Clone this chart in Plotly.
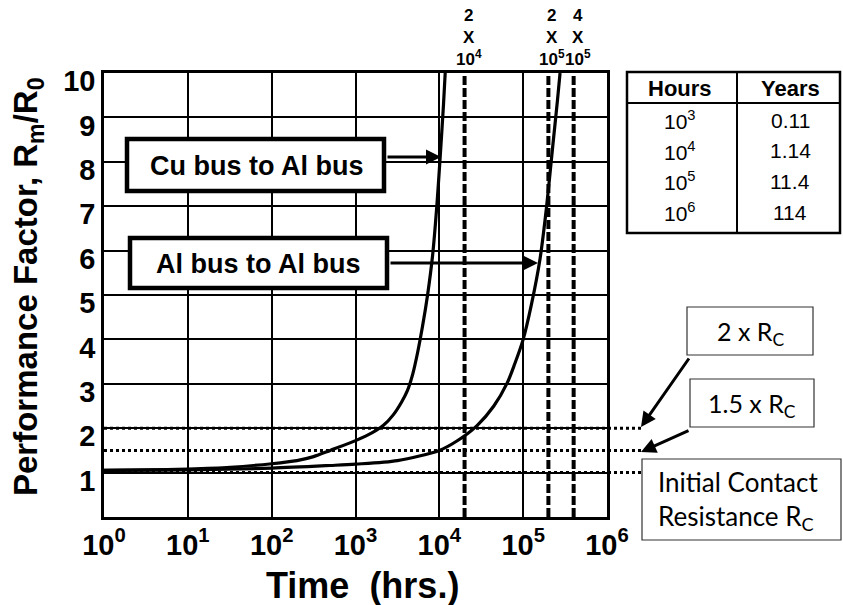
import math
import plotly.graph_objects as go

# ---------------- data ----------------
cu_hours = [1, 3.2, 10, 32, 100, 200, 316, 500, 1000, 1585, 2140, 2820, 3550, 4170, 4790, 5500, 6310, 7240, 8320, 9330, 10230, 11220, 11750]
cu_pf = [1.05, 1.06, 1.08, 1.12, 1.2, 1.27, 1.36, 1.5, 1.72, 1.9, 2.06, 2.3, 2.59, 2.85, 3.2, 3.7, 4.3, 5.0, 5.9, 7.0, 8.1, 9.3, 10.0]

al_hours = [1, 10, 100, 500, 1000, 3160, 10000, 15850, 28180, 44670, 64570, 79430, 100000, 125900, 158500, 190500, 223900, 257000, 275400]
al_pf = [1.05, 1.06, 1.1, 1.16, 1.19, 1.27, 1.5, 1.7, 2.06, 2.5, 3.02, 3.45, 4.0, 4.8, 5.8, 7.0, 8.3, 9.4, 10.0]

marker_hours = [2e4, 2e5, 4e5]
marker_labels = ["2<br>X<br>10<sup>4</sup>", "2<br>X<br>10<sup>5</sup>", "4<br>X<br>10<sup>5</sup>"]

threshold_levels = [2.0, 1.5, 1.0]

x_tick_vals = [1, 10, 100, 1000, 1e4, 1e5, 1e6]
x_tick_text = ["10<sup>0</sup>", "10<sup>1</sup>", "10<sup>2</sup>", "10<sup>3</sup>",
               "10<sup>4</sup>", "10<sup>5</sup>", "10<sup>6</sup>"]
y_tick_vals = [1, 2, 3, 4, 5, 6, 7, 8, 9, 10]

table_hours = ["10<sup>3</sup>", "10<sup>4</sup>", "10<sup>5</sup>", "10<sup>6</sup>"]
table_years = ["0.11", "1.14", "11.4", "114"]

# ---------------- layout helpers ----------------
W, H = 843, 605
L, R, T, B = 104, 236, 73, 88
PW, PH = W - L - R, H - T - B


def px(x):
    return (x - L) / PW


def py(y):
    return (H - B - y) / PH


ARIAL = "Liberation Sans, Arial, sans-serif"
CAL = "Lato, Open Sans, sans-serif"

fig = go.Figure()

# vertical dashed marker lines
for h in marker_hours:
    fig.add_trace(go.Scatter(x=[h, h], y=[0, 10], mode="lines",
                             line=dict(color="black", width=4, dash="9px,3px"),
                             hoverinfo="skip", showlegend=False))

fig.add_trace(go.Scatter(x=cu_hours, y=cu_pf, mode="lines",
                         line=dict(color="black", width=3.2, shape="spline", smoothing=0.8),
                         showlegend=False, hoverinfo="skip"))
fig.add_trace(go.Scatter(x=al_hours, y=al_pf, mode="lines",
                         line=dict(color="black", width=3.2, shape="spline", smoothing=0.8),
                         showlegend=False, hoverinfo="skip"))

shapes = []
# threshold dotted lines extending beyond the plot
for lv in threshold_levels:
    shapes.append(dict(type="line", xref="paper", yref="y", x0=0, x1=px(642), y0=lv, y1=lv,
                       line=dict(color="black", width=3, dash="dot"), layer="above"))


def rect(x0, y0, x1, y1, width=1.2, color="#333"):
    shapes.append(dict(type="rect", xref="paper", yref="paper", x0=px(x0), x1=px(x1), y0=py(y1), y1=py(y0),
                       line=dict(color=color, width=width), fillcolor="white", layer="above"))


# label boxes
rect(127, 139, 384, 191, width=4.5, color="black")
rect(130, 238, 387, 288, width=4.5, color="black")
rect(687, 307, 813, 355)
rect(690, 379, 814, 427)
rect(642, 459, 841, 540)

# table
rect(627, 72, 840, 233, width=2.5, color="black")
shapes.append(dict(type="line", xref="paper", yref="paper", x0=px(627), x1=px(840), y0=py(103), y1=py(103),
                   line=dict(color="black", width=2)))
shapes.append(dict(type="line", xref="paper", yref="paper", x0=px(737), x1=px(737), y0=py(72), y1=py(233),
                   line=dict(color="black", width=2)))

ann = []


def text(x, y, s, size, font=ARIAL, xanchor="center", align="center", color="black"):
    ann.append(dict(x=px(x), y=py(y), xref="paper", yref="paper", text=s, showarrow=False,
                    font=dict(family=font, size=size, color=color), xanchor=xanchor, yanchor="middle", align=align))


def arrow(x0, y0, x1, y1, w=3):
    ann.append(dict(x=px(x1), y=py(y1), xref="paper", yref="paper", ax=x0 - x1, ay=y0 - y1,
                    axref="pixel", ayref="pixel", text="", showarrow=True,
                    arrowhead=2, arrowsize=1.0, arrowwidth=w, arrowcolor="black"))


text(256, 166, "<b>Cu bus to Al bus</b>", 27)
text(258, 264, "<b>Al bus to Al bus</b>", 27)
arrow(386, 157, 441, 157)
arrow(389, 263, 538, 263)

text(750, 333, "2 x R<sub>C</sub>", 25, font=CAL)
text(752, 405, "1.5 x R<sub>C</sub>", 25, font=CAL)
text(656, 500, "Initial Contact<br>Resistance R<sub>C</sub>", 26, font=CAL, xanchor="left", align="left")
arrow(690, 357, 641, 427)
arrow(690, 430, 641, 452)

# table text
text(680, 89, "<b>Hours</b>", 22)
text(790, 89, "<b>Years</b>", 22)
for i, (hh, yy) in enumerate(zip(table_hours, table_years)):
    yc = 120 + i * 30.7
    text(680, yc, hh, 21)
    text(790, yc, yy, 21)

# top marker labels
for h, lab in zip(marker_hours, marker_labels):
    ann.append(dict(x=math.log10(h), y=py(71), xref="x", yref="paper", text="<b>" + lab + "</b>",
                    showarrow=False, xanchor="center", yanchor="bottom", xshift=4,
                    font=dict(family=ARIAL, size=17, color="black")))

# axis titles
ann.append(dict(x=px(28), y=py(287), xref="paper", yref="paper",
                text="<b>Performance Factor, R<sub>m</sub>/R<sub>0</sub></b>", textangle=-90,
                showarrow=False, font=dict(family=ARIAL, size=33, color="black"), xanchor="center", yanchor="middle"))
ann.append(dict(x=px(362), y=py(585), xref="paper", yref="paper",
                text="<b>Time&nbsp; (hrs.)</b>", showarrow=False,
                font=dict(family=ARIAL, size=36, color="black"), xanchor="center", yanchor="middle"))

fig.update_layout(
    width=W, height=H, margin=dict(l=L, r=R, t=T, b=B),
    paper_bgcolor="white", plot_bgcolor="white",
    shapes=shapes, annotations=ann, showlegend=False,
    xaxis=dict(type="log", range=[0, 6], tickvals=x_tick_vals, ticktext=x_tick_text, automargin=False,
               showgrid=True, gridcolor="black", gridwidth=2, zeroline=False,
               showline=True, linecolor="black", linewidth=2.5, mirror=True, ticks="",
               tickfont=dict(family=ARIAL, size=29, color="black", weight="bold")),
    yaxis=dict(range=[0, 10], tickvals=y_tick_vals, showgrid=True, gridcolor="black", gridwidth=2,
               automargin=False,
               zeroline=False, showline=True, linecolor="black", linewidth=2.5, mirror=True, ticks="",
               ticklabelshift=8,
               tickfont=dict(family=ARIAL, size=29, color="black", weight="bold")),
)

fig.write_html("out.html", config={"displayModeBar": False},
               post_script="document.body.style.margin='0px';document.body.style.overflow='hidden';")
